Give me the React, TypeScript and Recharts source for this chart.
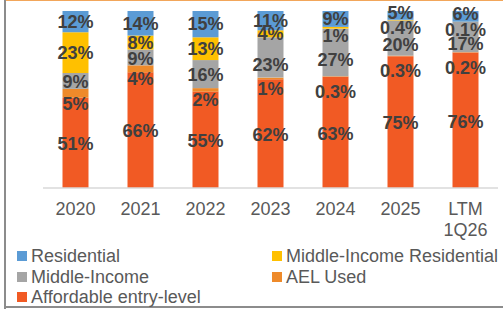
import React from 'react';
import { BarChart, Bar, XAxis, YAxis, LabelList } from 'recharts';

const categories = ['2020', '2021', '2022', '2023', '2024', '2025', 'LTM 1Q26'];
const affordable = [51, 66, 55, 62, 63, 75, 76];
const aelUsed = [5, 4, 2, 1, 0.3, 0.3, 0.2];
const middleIncome = [9, 9, 16, 23, 27, 20, 17];
const midIncomeRes = [23, 8, 13, 4, 1, 0.4, 0.1];
const residential = [12, 14, 15, 11, 9, 5, 6];

const data = categories.map((c, i) => ({
  cat: c,
  affordable: affordable[i],
  aelUsed: aelUsed[i],
  middleIncome: middleIncome[i],
  midIncomeRes: midIncomeRes[i],
  residential: residential[i],
}));

const series = [
  { key: 'affordable', name: 'Affordable entry-level', color: '#F15A24', values: affordable },
  { key: 'aelUsed', name: 'AEL Used', color: '#EE8A2A', values: aelUsed },
  { key: 'middleIncome', name: 'Middle-Income', color: '#A5A5A5', values: middleIncome },
  { key: 'midIncomeRes', name: 'Middle-Income Residential', color: '#FFC000', values: midIncomeRes },
  { key: 'residential', name: 'Residential', color: '#5B9BD5', values: residential },
];

const legendOrder = ['residential', 'midIncomeRes', 'middleIncome', 'aelUsed', 'affordable'];

const FONT = 'Arial, "Liberation Sans", sans-serif';

function labelDy(key: string, h: number) {
  if (key === 'aelUsed') return h < 1.5 ? 15 : 10;
  if (key === 'midIncomeRes') return h < 5 ? 8 : 0;
  if (key === 'middleIncome') return h >= 30 ? 7 : 1;
  if (key === 'affordable') return 1;
  if (key === 'residential') return h < 12 ? -3 : 0;
  return 0;
}

function makeLabel(key: string, values: number[]) {
  return (props: any) => {
    const { x, y, width, height, index } = props;
    const v = values[index];
    const h = Math.abs(Number(height) || 0);
    const cx = Number(x) + Number(width) / 2;
    const cy = Number(y) + Number(height) / 2 + labelDy(key, h);
    return (
      <text
        x={cx}
        y={cy}
        dy="0.35em"
        textAnchor="middle"
        fill="#404040"
        fontFamily={FONT}
        fontWeight="bold"
        fontSize={18}
      >
        {v + '%'}
      </text>
    );
  };
}

const Tick = (props: any) => {
  const { x, y, payload } = props;
  const parts = String(payload.value).split(' ');
  return (
    <text x={x} textAnchor="middle" fill="#595959" fontFamily={FONT} fontSize={18}>
      {parts.map((p, i) => (
        <tspan key={i} x={x} y={Number(y) + 27 + i * 20.5}>
          {p}
        </tspan>
      ))}
    </text>
  );
};

const LegendBlock = () => {
  const pos = [
    { left: 17, top: 246 },
    { left: 272, top: 246 },
    { left: 17, top: 266.5 },
    { left: 272, top: 266.5 },
    { left: 17, top: 287 },
  ];
  return (
    <>
      {legendOrder.map((k, i) => {
        const s = series.find((ss) => ss.key === k)!;
        return (
          <div
            key={k}
            style={{
              position: 'absolute',
              left: pos[i].left,
              top: pos[i].top,
              height: 20,
              display: 'flex',
              alignItems: 'center',
              whiteSpace: 'nowrap',
              fontFamily: FONT,
              fontSize: 18,
              color: '#595959',
              lineHeight: '20px',
            }}
          >
            <span style={{ display: 'inline-block', width: 10, height: 10, background: s.color, marginRight: 4 }} />
            <span>{s.name}</span>
          </div>
        );
      })}
    </>
  );
};

export default function App() {
  return (
    <div style={{ position: 'absolute', left: 0, top: 0, width: 503, height: 309, background: '#fff', overflow: 'hidden' }}>
      <div style={{ position: 'absolute', left: 5, top: 0, width: 498, height: 1, background: '#F2A65A' }} />
      <div style={{ position: 'absolute', left: 4, top: 0, width: 2, height: 309, background: '#8C8C8C' }} />
      <div style={{ position: 'absolute', left: 4, top: 306, width: 499, height: 2, background: '#8C8C8C' }} />
      <div style={{ position: 'absolute', left: 0, top: 0 }}>
        <BarChart
          width={503}
          height={309}
          data={data}
          stackOffset="expand"
          barCategoryGap="30%"
          margin={{ top: 11, right: 5, bottom: 81, left: 43 }}
        >
          <XAxis
            dataKey="cat"
            axisLine={{ stroke: '#D9D9D9', strokeWidth: 1.5 }}
            tickLine={false}
            tickSize={0}
            tickMargin={0}
            interval={0}
            tick={<Tick />}
            height={40}
          />
          <YAxis hide domain={[0, 1]} />
          {series.map((s) => (
            <Bar key={s.key} dataKey={s.key} name={s.name} stackId="a" fill={s.color} isAnimationActive={false}>
              <LabelList dataKey={s.key} content={makeLabel(s.key, s.values)} />
            </Bar>
          ))}
        </BarChart>
      </div>
      <LegendBlock />
    </div>
  );
}
